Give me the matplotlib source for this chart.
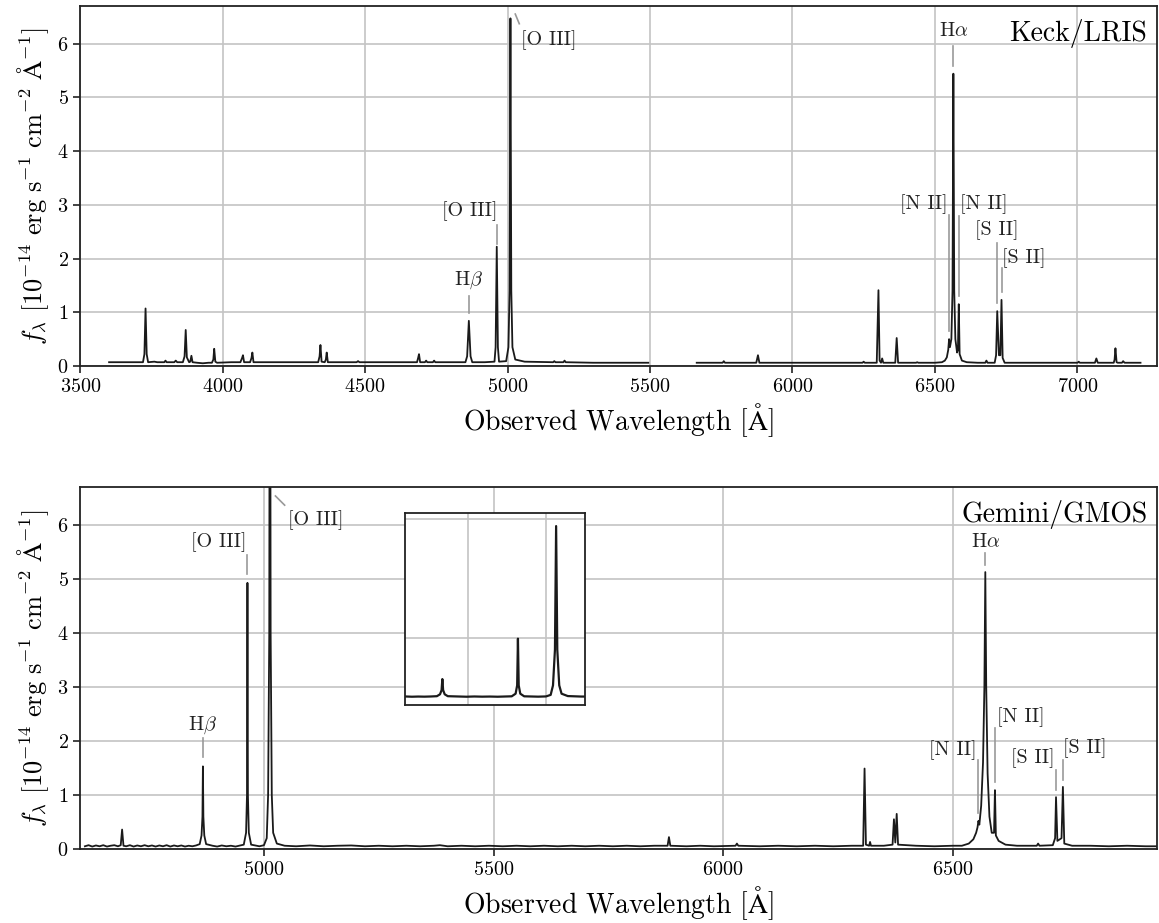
import numpy as np
import matplotlib
matplotlib.use("Agg")
import matplotlib.pyplot as plt

plt.rcParams['font.family'] = 'serif'
plt.rcParams['font.serif'] = ['cmr10', 'DejaVu Serif']
plt.rcParams['mathtext.fontset'] = 'cm'
plt.rcParams['axes.formatter.use_mathtext'] = True
plt.rcParams['axes.unicode_minus'] = False

nan = np.nan

# Keck/LRIS spectrum (observed wavelength, flux in 1e-14 erg/s/cm2/A)
keck_wave = [3601, 3650, 3700, 3720, 3725, 3729, 3733, 3738, 3760, 3770, 3795, 3799, 3803,
             3830, 3835, 3840, 3860, 3866, 3870, 3874, 3882, 3886, 3890, 3894, 3910, 3930,
             3950, 3962, 3967, 3970, 3974, 3980, 4030, 4062, 4068, 4071, 4075, 4096, 4101,
             4104, 4108, 4200, 4300, 4335, 4340, 4343, 4347, 4358, 4362, 4365, 4369, 4380,
             4470, 4475, 4480, 4600, 4682, 4686, 4689, 4693, 4710, 4714, 4718, 4738, 4742,
             4746, 4800, 4852, 4858, 4864, 4870, 4876, 4920, 4954, 4958, 4962, 4966, 4970,
             4995, 5003, 5007, 5010, 5013, 5017, 5027, 5060, 5160, 5164, 5168, 5196, 5200,
             5204, 5300, 5420, 5494, nan,
             5664, 5700, 5755, 5759, 5763, 5800, 5873, 5879, 5884, 5950, 6100, 6246, 6250,
             6254, 6296, 6302, 6306, 6311, 6315, 6319, 6361, 6366, 6371, 6434, 6438, 6442,
             6500, 6525, 6535, 6542, 6547, 6550, 6553, 6558, 6562, 6565, 6568, 6572, 6578,
             6581, 6584, 6587, 6595, 6612, 6650, 6677, 6681, 6685, 6710, 6715, 6719, 6725,
             6730, 6734, 6738, 6745, 6850, 7001, 7005, 7009, 7062, 7067, 7072, 7128, 7131,
             7134, 7138, 7142, 7157, 7161, 7166, 7222]
keck_flux = [0.07, 0.07, 0.07, 0.07, 0.22, 1.07, 0.22, 0.07, 0.08, 0.07, 0.07, 0.1, 0.07,
             0.07, 0.1, 0.07, 0.07, 0.18, 0.67, 0.16, 0.07, 0.08, 0.19, 0.07, 0.06, 0.05,
             0.06, 0.06, 0.12, 0.32, 0.08, 0.06, 0.07, 0.07, 0.15, 0.2, 0.07, 0.07, 0.15,
             0.25, 0.07, 0.07, 0.07, 0.07, 0.18, 0.39, 0.08, 0.07, 0.12, 0.25, 0.07, 0.07,
             0.07, 0.09, 0.07, 0.07, 0.07, 0.15, 0.22, 0.07, 0.07, 0.1, 0.07, 0.07, 0.1,
             0.07, 0.07, 0.07, 0.18, 0.84, 0.18, 0.07, 0.07, 0.08, 0.35, 2.22, 0.35, 0.08,
             0.09, 0.35, 1.4, 6.47, 1.4, 0.35, 0.12, 0.08, 0.07, 0.09, 0.07, 0.07, 0.1,
             0.07, 0.06, 0.06, 0.06, nan,
             0.06, 0.06, 0.06, 0.09, 0.06, 0.06, 0.06, 0.2, 0.06, 0.06, 0.06, 0.06, 0.08,
             0.06, 0.06, 1.41, 0.1, 0.06, 0.14, 0.06, 0.06, 0.52, 0.06, 0.06, 0.07, 0.06,
             0.06, 0.07, 0.1, 0.16, 0.3, 0.5, 0.35, 0.5, 1.4, 5.44, 1.4, 0.5, 0.25,
             0.3, 1.15, 0.22, 0.1, 0.07, 0.06, 0.06, 0.1, 0.06, 0.06, 0.2, 1.02, 0.2,
             0.2, 1.23, 0.15, 0.06, 0.06, 0.06, 0.08, 0.06, 0.06, 0.14, 0.06, 0.06, 0.12,
             0.33, 0.07, 0.06, 0.06, 0.09, 0.06, 0.06]

# Gemini/GMOS spectrum
gemini_wave = [4610, 4618, 4626, 4634, 4642, 4650, 4658, 4666, 4674, 4682, 4688, 4691, 4694,
               4700, 4708, 4716, 4724, 4732, 4740, 4748, 4756, 4764, 4772, 4780, 4788, 4796,
               4804, 4812, 4820, 4828, 4836, 4844, 4852, 4860, 4864, 4866, 4867, 4868, 4870,
               4874, 4888, 4898, 4908, 4918, 4928, 4938, 4946, 4956, 4961, 4963, 4964, 4965,
               4967, 4972, 4990, 5000, 5006, 5009, 5011.5, 5013, 5014.5, 5017, 5020, 5028, 5045,
               5070, 5100, 5130, 5160, 5190, 5220, 5250, 5280, 5310, 5340, 5370, 5383, 5400,
               5430, 5460, 5490, 5520, 5550, 5580, 5610, 5640, 5670, 5700, 5730, 5760, 5790,
               5820, 5850, 5879, 5882, 5885, 5920, 5950, 5980, 6027, 6030, 6033, 6080, 6120,
               6160, 6200, 6240, 6280, 6305, 6308, 6311, 6318, 6320, 6322, 6350, 6369, 6372,
               6375, 6378, 6381, 6420, 6460, 6500, 6520, 6535, 6545, 6551, 6554, 6556, 6558,
               6562, 6566, 6569, 6571, 6573, 6576, 6580, 6585, 6590, 6592, 6594, 6600, 6615,
               6640, 6683, 6686, 6689, 6718, 6723, 6725, 6728, 6737, 6740, 6743, 6760, 6800,
               6840, 6880, 6920, 6945]
gemini_flux = [0.05, 0.07, 0.045, 0.065, 0.05, 0.07, 0.045, 0.06, 0.07, 0.05, 0.07, 0.36, 0.06,
               0.05, 0.07, 0.045, 0.065, 0.05, 0.07, 0.05, 0.065, 0.045, 0.065, 0.05, 0.07, 0.045,
               0.065, 0.05, 0.065, 0.045, 0.06, 0.05, 0.065, 0.09, 0.25, 0.6, 1.53, 0.6, 0.25,
               0.09, 0.06, 0.045, 0.065, 0.05, 0.06, 0.045, 0.06, 0.08, 0.3, 1.0, 4.93, 1.0,
               0.3, 0.08, 0.05, 0.07, 0.2, 1.0, 4.0, 14.4, 4.0, 1.0, 0.3, 0.1, 0.06,
               0.05, 0.065, 0.05, 0.06, 0.065, 0.05, 0.06, 0.05, 0.06, 0.05, 0.06, 0.07, 0.05,
               0.06, 0.05, 0.06, 0.05, 0.06, 0.05, 0.06, 0.05, 0.06, 0.05, 0.06, 0.05, 0.06,
               0.05, 0.06, 0.06, 0.22, 0.06, 0.05, 0.06, 0.05, 0.06, 0.1, 0.06, 0.05, 0.06,
               0.05, 0.06, 0.05, 0.06, 0.06, 1.49, 0.08, 0.06, 0.13, 0.06, 0.06, 0.08, 0.55,
               0.12, 0.65, 0.08, 0.06, 0.05, 0.06, 0.06, 0.1, 0.18, 0.3, 0.4, 0.52, 0.45,
               0.8, 1.6, 3.0, 5.13, 3.0, 1.4, 0.6, 0.3, 0.3, 1.09, 0.25, 0.15, 0.08,
               0.06, 0.06, 0.1, 0.06, 0.07, 0.2, 0.96, 0.15, 0.2, 1.15, 0.1, 0.06, 0.06,
               0.05, 0.06, 0.05, 0.05]

# line labels: text, wavelength, line bottom, line top, text x, text y, alignment
keck_labels = [
    (r'H$\beta$', 4864, 0.99, 1.30, 4864, 1.60, 'center'),
    ('[O III]', 4962, 2.27, 2.63, 4963, 2.89, 'right'),
    (r'H$\alpha$', 6565, 5.59, 5.96, 6565, 6.24, 'center'),
    ('[N II]', 6548, 0.65, 2.81, 6545, 3.02, 'right'),
    ('[N II]', 6584, 1.30, 2.79, 6590, 3.02, 'left'),
    ('[S II]', 6719, 1.17, 2.29, 6716, 2.53, 'center'),
    ('[S II]', 6734, 1.38, 1.82, 6737, 2.01, 'left'),
]
gemini_labels = [
    (r'H$\beta$', 4867, 1.71, 2.05, 4867, 2.30, 'center'),
    ('[O III]', 4964, 5.09, 5.44, 4963, 5.69, 'right'),
    (r'H$\alpha$', 6571, 5.26, 5.48, 6571, 5.69, 'center'),
    ('[N II]', 6556, 0.66, 1.65, 6552, 1.83, 'right'),
    ('[N II]', 6592, 1.25, 2.24, 6596, 2.45, 'left'),
    ('[S II]', 6725, 1.09, 1.46, 6721, 1.68, 'right'),
    ('[S II]', 6740, 1.28, 1.65, 6741, 1.86, 'left'),
]
# [O III] 5007 label with slanted marker
keck_oiii = ([5027, 5041], [6.55, 6.37], 5048, 6.07)
gemini_oiii = ([5025, 5045], [6.54, 6.37], 5052, 6.10)

grid_col = '#c4c4c4'
line_col = '#999999'
spec_col = '#1a1a1a'
ylab = r'$f_\lambda\ [10^{-14}\ \mathrm{erg\ s^{-1}\ cm^{-2}\ \AA^{-1}}]$'
xlab = r'Observed Wavelength [$\mathrm{\AA}$]'

fig = plt.figure(figsize=(11.59, 9.23), dpi=100)
ax1 = fig.add_axes([0.0693, 0.6035, 0.929, 0.390])
ax2 = fig.add_axes([0.0693, 0.0802, 0.929, 0.3918])


def style(ax):
    ax.grid(True, color=grid_col, lw=1.2)
    ax.set_axisbelow(True)
    for s in ax.spines.values():
        s.set_linewidth(1.3)
        s.set_color('#222222')
    ax.tick_params(direction='out', length=5, width=1.2, labelsize=14.5, color='#222222')
    ax.set_ylim(0, 6.7)
    ax.set_yticks([0, 1, 2, 3, 4, 5, 6])
    ax.set_xlabel(xlab, fontsize=20)
    ax.set_ylabel(ylab, fontsize=19)


def labels(ax, lab, oiii):
    for txt, w, y0, y1, tx, ty, ha in lab:
        ax.plot([w, w], [y0, y1], color=line_col, lw=1.2)
        ax.text(tx, ty, txt, ha=ha, va='center', fontsize=14.5, color='#222222')
    ax.plot(oiii[0], oiii[1], color=line_col, lw=1.2)
    ax.text(oiii[2], oiii[3], '[O III]', ha='left', va='center', fontsize=14.5, color='#222222')


ax1.plot(keck_wave, keck_flux, color=spec_col, lw=1.3)
ax1.set_xlim(3500, 7280)
ax1.set_xticks([3500, 4000, 4500, 5000, 5500, 6000, 6500, 7000])
style(ax1)
labels(ax1, keck_labels, keck_oiii)
ax1.text(0.991, 0.965, 'Keck/LRIS', transform=ax1.transAxes, ha='right', va='top', fontsize=20)

ax2.plot(gemini_wave, gemini_flux, color=spec_col, lw=1.3)
ax2.set_xlim(4600, 6945)
ax2.set_xticks([5000, 5500, 6000, 6500])
style(ax2)
labels(ax2, gemini_labels, gemini_oiii)
ax2.text(0.991, 0.965, 'Gemini/GMOS', transform=ax2.transAxes, ha='right', va='top', fontsize=20)

# inset around H-beta and [O III]
axi = fig.add_axes([0.3494, 0.2362, 0.1553, 0.208])
axi.plot(gemini_wave, gemini_flux, color=spec_col, lw=1.6)
axi.set_xlim(4819, 5050)
axi.set_ylim(-0.65, 15.5)
axi.set_xticks([4900, 5000])
axi.set_yticks([5, 15])
axi.tick_params(length=0, labelbottom=False, labelleft=False)
axi.grid(True, color=grid_col, lw=1.2)
axi.set_axisbelow(True)
for s in axi.spines.values():
    s.set_linewidth(1.3)
    s.set_color('#222222')

fig.savefig('out.png', dpi=100, facecolor='white')
